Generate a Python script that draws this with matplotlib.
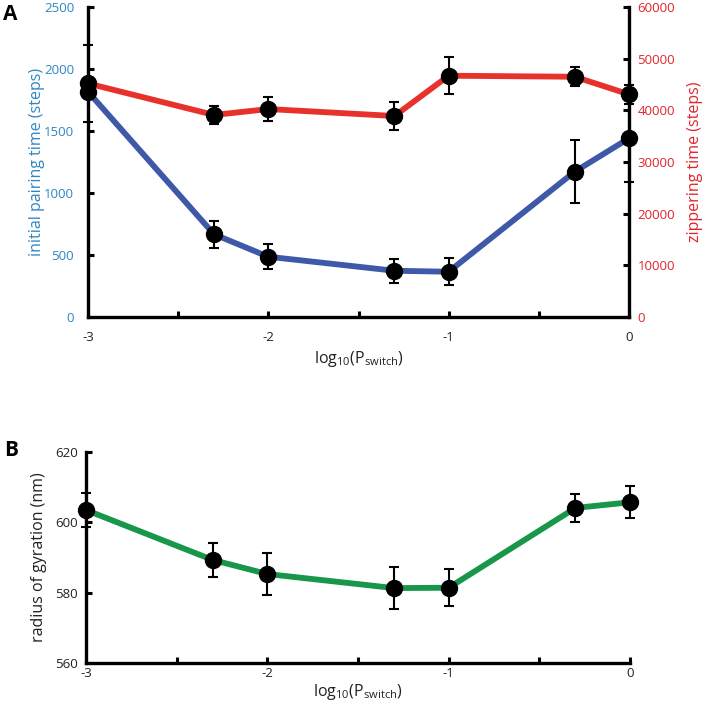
import matplotlib
matplotlib.use("Agg")
import matplotlib.pyplot as plt
import numpy as np

plt.rcParams['font.family'] = ['Open Sans', 'DejaVu Sans']
plt.rcParams['mathtext.fontset'] = 'custom'
plt.rcParams['mathtext.rm'] = 'Open Sans'
plt.rcParams['mathtext.it'] = 'Open Sans'
plt.rcParams['mathtext.bf'] = 'Open Sans:bold'

# Data
log_p = [-3, -2.301, -2, -1.301, -1, -0.301, 0]
pairing = [1817, 667, 486, 373, 365, 1172, 1441]
pairing_err = [30, 110, 100, 95, 107, 255, 355]
zipper = [45200, 39100, 40250, 38900, 46700, 46500, 43100]
zipper_err = [7450, 1700, 2260, 2700, 3580, 1800, 1900]
rg = [603.5, 589.3, 585.3, 581.3, 581.4, 604.1, 605.7]
rg_err = [4.7, 4.8, 6.1, 6.0, 5.3, 4.0, 4.5]

xticks = [-3, -2.5, -2, -1.5, -1, -0.5, 0]
xticklabels = ['-3', '', '-2', '', '-1', '', '0']

BLUE_LINE = '#3f58a8'
RED_LINE = '#e8312b'
GREEN_LINE = '#18964a'
BLUE_TXT = '#2f86c2'
RED_TXT = '#e2242c'

W, H = 703, 709
fig = plt.figure(figsize=(W / 100, H / 100), dpi=100)

def ax_rect(l, t, r, b):
    return [l / W, 1 - b / H, (r - l) / W, (b - t) / H]

SPW = 2.4
LW = 4.2
MS = 11.5

def style_x(ax, pad, labelpad):
    ax.set_xlim(-3, 0)
    ax.set_xticks(xticks)
    ax.set_xticklabels(xticklabels)
    ax.tick_params(axis='x', direction='in', length=4, width=2.2, pad=pad,
                   labelsize=9.5, colors='black', labelcolor='#222222')
    ax.set_xlabel('$\\mathregular{log_{10}(P_{switch})}$', fontsize=11.5,
                  labelpad=labelpad, color='#222222')

# Panel A
axA = fig.add_axes(ax_rect(88, 7, 629, 317))
axA2 = axA.twinx()
axA.set_zorder(axA2.get_zorder() + 1)
axA.patch.set_visible(False)

axA.plot(log_p, pairing, color=BLUE_LINE, lw=LW, zorder=2, clip_on=False)
axA2.plot(log_p, zipper, color=RED_LINE, lw=LW, zorder=2, clip_on=False)
axA2.errorbar(log_p, zipper, yerr=zipper_err, fmt='o', color='black',
              ms=MS, elinewidth=1.5, capsize=3.5, capthick=1.5, zorder=3,
              clip_on=False)
axA.errorbar(log_p, pairing, yerr=pairing_err, fmt='o', color='black',
             ms=MS, elinewidth=1.5, capsize=3.5, capthick=1.5, zorder=3,
             clip_on=False)

axA.set_ylim(0, 2500)
axA.set_yticks([0, 500, 1000, 1500, 2000, 2500])
axA2.set_ylim(0, 60000)
axA2.set_yticks(np.arange(0, 60001, 10000))
for a in (axA, axA2):
    a.spines['top'].set_visible(False)
    for s in ('left', 'right', 'bottom'):
        a.spines[s].set_linewidth(SPW)
        a.spines[s].set_color('black')
axA2.spines['left'].set_visible(False)
axA2.spines['bottom'].set_visible(False)
axA.spines['right'].set_visible(False)

axA.tick_params(axis='y', direction='in', length=4, width=2.2, pad=10,
                labelsize=9.5, labelcolor=BLUE_TXT)
axA2.tick_params(axis='y', direction='in', length=4, width=2.2, pad=6,
                 labelsize=9.5, labelcolor=RED_TXT)
style_x(axA, 10, 4)
axA.set_ylabel('initial pairing time (steps)', fontsize=11.5, color=BLUE_TXT,
               labelpad=-1)
axA2.set_ylabel('zippering time (steps)', fontsize=11.5, color=RED_TXT,
                labelpad=9)

# Panel B
axB = fig.add_axes(ax_rect(86, 452, 630, 663))
axB.plot(log_p, rg, color=GREEN_LINE, lw=LW, zorder=2, clip_on=False)
axB.errorbar(log_p, rg, yerr=rg_err, fmt='o', color='black', ms=MS,
             elinewidth=1.5, capsize=3.5, capthick=1.5, zorder=3, clip_on=False)
axB.set_ylim(560, 620)
axB.set_yticks([560, 580, 600, 620])
axB.spines['top'].set_visible(False)
axB.spines['right'].set_visible(False)
for s in ('left', 'bottom'):
    axB.spines[s].set_linewidth(SPW)
    axB.spines[s].set_color('black')
axB.tick_params(axis='y', direction='in', length=4, width=2.2, pad=6,
                labelsize=9.5, labelcolor='#222222')
style_x(axB, 3, 1)
axB.set_ylabel('radius of gyration (nm)', fontsize=11.5, color='#222222',
               labelpad=6)

fig.text(3 / W, 1 - 15 / H, 'A', fontsize=15, fontweight='bold', va='center',
         ha='left')
fig.text(4 / W, 1 - 450 / H, 'B', fontsize=15, fontweight='bold', va='center',
         ha='left')

fig.savefig('out.png', dpi=100)
